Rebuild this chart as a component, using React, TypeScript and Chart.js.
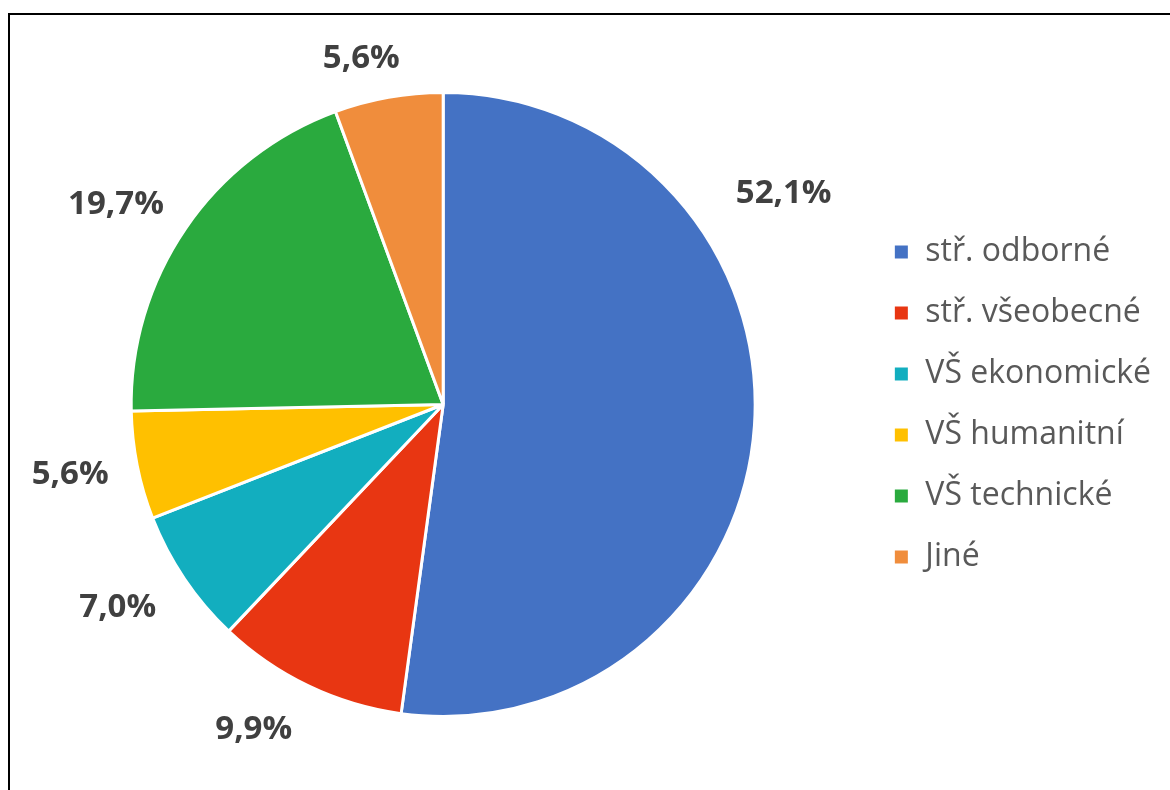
import React, { useEffect, useRef } from "react";
import { Chart, registerables } from "chart.js";

Chart.register(...registerables);

const categories = ["stř. odborné", "stř. všeobecné", "VŠ ekonomické", "VŠ humanitní", "VŠ technické", "Jiné"];
const values = [52.1, 9.9, 7.0, 5.6, 19.7, 5.6];
const valueLabels = ["52,1%", "9,9%", "7,0%", "5,6%", "19,7%", "5,6%"];
const colors = ["#4472C4", "#E83612", "#12AEBF", "#FFC000", "#2AAA3E", "#F08D3C"];
// label placement: fraction along each slice, and gap outside the rim
const labelAlong = [0.31, 0.63, 0.58, 0.53, 0.46, 0.34];
const labelGap = [40, 32, 31, 27, 23, 20];

const outsideLabels = {
  id: "outsideLabels",
  afterDatasetsDraw(chart: any) {
    const ctx = chart.ctx;
    const meta = chart.getDatasetMeta(0);
    ctx.save();
    ctx.font = "bold 33px 'Open Sans'";
    ctx.fillStyle = "#404040";
    ctx.textAlign = "center";
    ctx.textBaseline = "middle";
    meta.data.forEach((arc: any, i: number) => {
      const { x, y, startAngle, endAngle, outerRadius } = arc.getProps(["x", "y", "startAngle", "endAngle", "outerRadius"], true);
      const a = startAngle + (endAngle - startAngle) * labelAlong[i];
      const text = valueLabels[i];
      const w = ctx.measureText(text).width;
      const h = 30;
      const cx = Math.cos(a), sy = Math.sin(a);
      const proj = (w / 2) * Math.abs(cx) + (h / 2) * Math.abs(sy);
      const r = outerRadius + labelGap[i] + proj;
      ctx.fillText(text, x + cx * r, y + sy * r);
    });
    ctx.restore();
  },
};

export default function App() {
  const ref = useRef<HTMLCanvasElement>(null);
  useEffect(() => {
    const chart = new Chart(ref.current!, {
      type: "pie",
      data: {
        labels: categories,
        datasets: [
          {
            data: values,
            backgroundColor: colors,
            borderColor: "#FFFFFF",
            borderWidth: 3,
          },
        ],
      },
      options: {
        animation: false,
        responsive: false,
        layout: { padding: { left: 22, right: 9, top: 91, bottom: 72 } },
        plugins: {
          tooltip: { enabled: false },
          legend: {
            position: "right",
            align: "center",
            labels: {
              boxWidth: 16,
              boxHeight: 16,
              padding: 29,
              color: "#595959",
              font: { family: "'Open Sans'", size: 32 },
            },
          },
        },
      },
      plugins: [outsideLabels],
    });
    return () => chart.destroy();
  }, []);
  return (
    <div style={{ position: "absolute", left: 0, top: 0, width: 1170, height: 790, background: "#fff", overflow: "hidden" }}>
      <canvas ref={ref} width={1170} height={790} style={{ position: "absolute", left: 0, top: 0 }} />
      <div
        style={{
          position: "absolute",
          left: 8,
          top: 13,
          width: 1200,
          height: 800,
          borderLeft: "2px solid #000",
          borderTop: "2px solid #000",
          boxSizing: "border-box",
          pointerEvents: "none",
        }}
      />
    </div>
  );
}
